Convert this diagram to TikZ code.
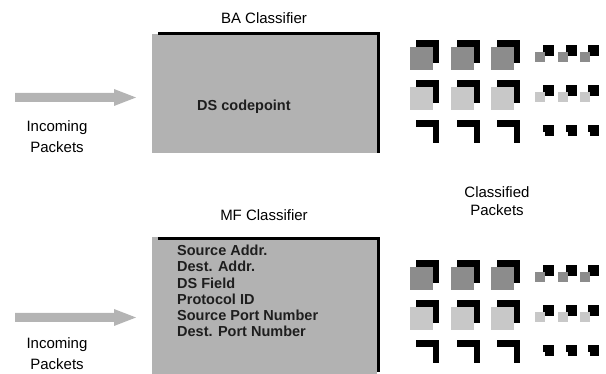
\documentclass[tikz,border=0pt]{standalone}
\usepackage{fontspec}
\setmainfont{Liberation Sans}
\definecolor{boxgray}{RGB}{178,178,178}
\definecolor{arrowgray}{RGB}{180,180,180}
\definecolor{pktdark}{RGB}{140,140,140}
\definecolor{pktlight}{RGB}{200,200,200}
\definecolor{txtdark}{RGB}{30,30,30}
\begin{document}
\begin{tikzpicture}[x=1pt,y=-1pt,
  lbl/.style={inner sep=0pt,font=\fontsize{15}{17}\selectfont},
  boldlbl/.style={inner sep=0pt,font=\fontsize{14.5}{16.2}\selectfont\bfseries,text=txtdark,align=left},
  classbox/.style={fill=boxgray,draw=none,inner sep=0pt,anchor=north west},
  border/.style={line width=3pt,black}]
\useasboundingbox (0,0) rectangle (606,374);
% ---------- BA classifier ----------
\node[lbl] (batitle) at (264,18) {BA Classifier};
\node[classbox,minimum width=225pt,minimum height=119pt] (babox) at (152,34) {};
\draw[border] (158,33.5) -| (378.5,153);
\node[boldlbl,anchor=west] (ds) at (197,107) {DS codepoint};
% incoming arrow (top)
\fill[arrowgray] (15,93) -- (114,93) -- (114,89) -- (136,97.5) -- (114,106) -- (114,102) -- (15,102) -- cycle;
\node[lbl] (in1) at (57,128) {Incoming};
\node[lbl] (pk1) at (57,147) {Packets};
% ---------- MF classifier ----------
\node[lbl] (mftitle) at (264,215) {MF Classifier};
\node[classbox,minimum width=225pt,minimum height=137pt] (mfbox) at (152,237) {};
\draw[border] (158,238.5) -| (378.5,372);
\node[boldlbl,anchor=north west] (fields) at (177,245)
  {Source Addr.\\Dest. Addr.\\DS Field\\Protocol ID\\Source Port Number\\Dest. Port Number};
% incoming arrow (bottom)
\fill[arrowgray] (15,313) -- (114,313) -- (114,309) -- (136,317.5) -- (114,326) -- (114,322) -- (15,322) -- cycle;
\node[lbl] (in2) at (57,345) {Incoming};
\node[lbl] (pk2) at (57,364) {Packets};
% ---------- Classified packets ----------
\node[lbl] (cl1) at (497,192) {Classified};
\node[lbl] (cl2) at (497,210) {Packets};
% packet icons
\foreach \top in {40,260}{
  \foreach \r/\c in {0/pktdark,1/pktlight,2/white}{
    \foreach \k in {0,1,2}{
      \fill[black] ({416+40.5*\k},{\top+40*\r}) rectangle ++(23,23);
      \fill[\c] ({410+40.5*\k},{\top+40*\r+7}) rectangle ++(23,23);
    }
    \foreach \k in {0,1,2}{
      \fill[black] ({543+22.5*\k},{\top+40*\r+5}) rectangle ++(11,11);
      \fill[\c] ({535+22.5*\k},{\top+40*\r+12}) rectangle ++(10,10);
    }
  }
}
\end{tikzpicture}
\end{document}
